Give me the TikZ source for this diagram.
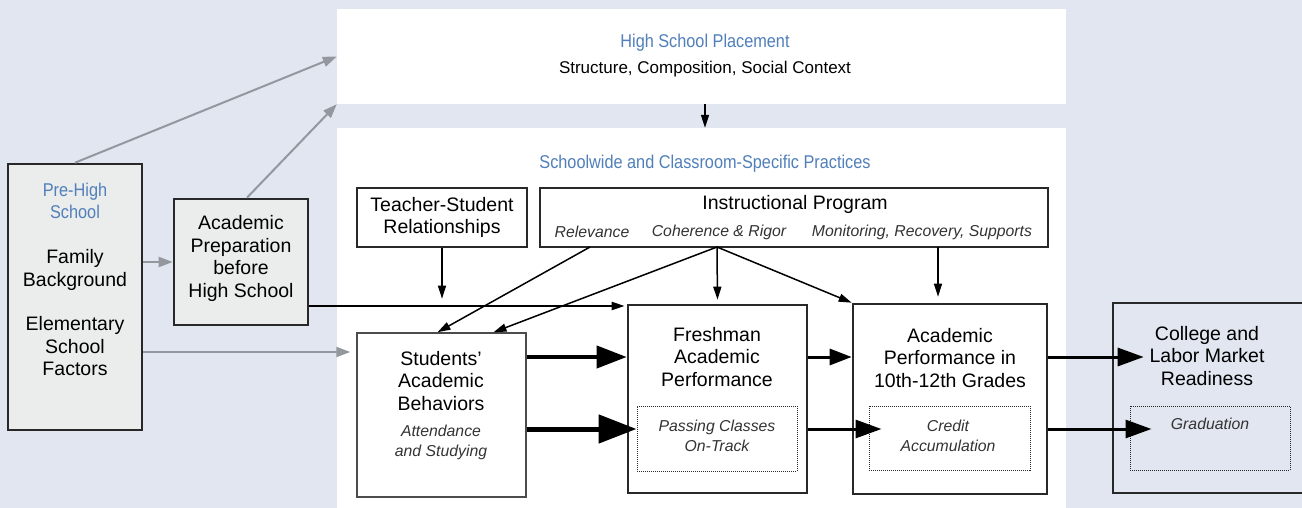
\documentclass[tikz,border=0pt]{standalone}
\usepackage{fontspec}
\setmainfont{Liberation Sans}
\newfontfamily\condfont[FakeStretch=0.88]{Liberation Sans}
\usetikzlibrary{arrows.meta}

\definecolor{bgblue}{RGB}{225,230,240}
\definecolor{boxgray}{RGB}{235,236,236}
\definecolor{headblue}{RGB}{80,127,186}
\definecolor{arrowgray}{RGB}{148,152,158}
\definecolor{edge}{RGB}{40,40,40}

\newcommand\txtbody{\fontsize{19.5}{22.5}\selectfont}
\newcommand\txtsub{\fontsize{15.8}{20}\selectfont\itshape}
\newcommand\txthead{\condfont\fontsize{18.5}{22}\selectfont}
\newcommand\txtstruct{\fontsize{17}{20}\selectfont}

\tikzset{
  panel/.style={fill=white, inner sep=0pt},
  greybox/.style={draw=edge, line width=2.6pt, fill=boxgray, inner sep=0pt},
  thinbox/.style={draw=edge, line width=1.3pt, fill=white, inner sep=0pt},
  thickbox/.style={draw=edge, line width=2.6pt, inner sep=0pt},
  dotbox/.style={draw=edge, densely dotted, line width=1pt, inner sep=0pt},
  plain/.style={inner sep=0pt, align=center, font=\txtbody},
  subtxt/.style={inner sep=0pt, align=center, font=\txtsub, text=black!80},
  head/.style={inner sep=0pt, align=center, font=\txthead, text=headblue},
  greyarrow/.style={draw=arrowgray, line width=2pt, -{Triangle[length=14pt,width=10pt]}},
  thinarrow/.style={draw=black, line width=1.5pt, -{Triangle[length=13pt,width=8pt]}},
  midarrow/.style={draw=black, line width=3pt, -{Triangle[length=26pt,width=18pt]}},
  bigarrow/.style={draw=black, line width=4pt, -{Triangle[length=30pt,width=22pt]}},
  hugearrow/.style={draw=black, line width=5pt, -{Triangle[length=38pt,width=28pt]}}
}

\begin{document}
\begin{tikzpicture}[x=1pt,y=-1pt]
  \path[use as bounding box, fill=bgblue] (0,0) rectangle (1302,508);

  % white panels
  \node[panel, minimum width=729pt, minimum height=95pt] (place) at (701.5,56.5) {};
  \node[panel, minimum width=729pt, minimum height=384pt] (practice) at (701.5,320) {};
  \node[head] (placehead) at (705,43) {High School Placement};
  \node[plain, font=\txtstruct] (placesub) at (705,69) {Structure, Composition, Social Context};
  \node[head] (practhead) at (705,164) {Schoolwide and Classroom-Specific Practices};

  % pre-high school
  \node[greybox, minimum width=134pt, minimum height=266pt] (pre) at (75,297) {};
  \node[head] (prehead) at (75,201) {Pre-High\\School};
  \node[plain] (pretext) at (75,313) {Family\\Background\\[22pt]Elementary\\School\\Factors};
  \node[greybox, minimum width=134pt, minimum height=126pt] (prep) at (241,262) {};
  \node[plain] (preptext) at (241,258.5) {Academic\\Preparation\\before\\High School};

  % practices
  \node[thinbox, plain, minimum width=170pt, minimum height=59pt] (teach) at (442,217.5) {Teacher-Student\\Relationships};
  \node[thinbox, minimum width=508pt, minimum height=59pt] (instr) at (794,217.5) {};
  \node[plain] (instrtext) at (795,204) {Instructional Program};
  \node[subtxt] (relvtext) at (592,232) {Relevance};
  \node[subtxt] (cohertext) at (719,232) {Coherence \& Rigor};
  \node[subtxt] (monittext) at (922,232) {Monitoring, Recovery, Supports};

  % outcomes
  \node[thinbox, draw=black!70, line width=1.5pt, minimum width=169pt, minimum height=164pt] (beh) at (441.5,415) {};
  \node[plain] (behtext) at (441,381) {Students'\\Academic\\Behaviors};
  \node[subtxt] (behsub) at (441,442) {Attendance\\and Studying};

  \node[thickbox, fill=white, minimum width=179pt, minimum height=188pt] (fresh) at (717.5,399) {};
  \node[plain] (freshtext) at (717,357) {Freshman\\Academic\\Performance};
  \node[dotbox, minimum width=160pt, minimum height=65pt] (freshdot) at (717,438.5) {};
  \node[subtxt] (passtext) at (717,436) {Passing Classes\\On-Track};

  \node[thickbox, fill=white, minimum width=194pt, minimum height=190pt] (acad) at (950,399) {};
  \node[plain] (acadtext) at (950,358) {Academic\\Performance in\\10th-12th Grades};
  \node[dotbox, minimum width=161pt, minimum height=64pt] (acaddot) at (949.5,438) {};
  \node[subtxt] (credtext) at (948,436) {Credit\\Accumulation};

  \node[thickbox, fill=bgblue, minimum width=227pt, minimum height=190pt] (coll) at (1226.5,398) {};
  \node[plain] (colltext) at (1207,356) {College and\\Labor Market\\Readiness};
  \node[dotbox, minimum width=160pt, minimum height=64pt] (colldot) at (1210,438) {};
  \node[subtxt] (gradtext) at (1210,424) {Graduation};

  % levels of the arrows
  \coordinate (rowT) at (0,306);
  \coordinate (rowA) at (0,357);
  \coordinate (rowB) at (0,429);
  \coordinate (elem) at (0,352);
  \coordinate (relv) at (590,247);
  \coordinate (coher) at (717,247);
  \coordinate (monit) at (938,247);

  % grey arrows
  \draw[greyarrow] (pre.north) -- (place.west);
  \draw[greyarrow] ([xshift=6pt]prep.north) -- (place.south west);
  \draw[greyarrow] (pre.east |- prep.west) -- (prep.west);
  \draw[greyarrow, shorten >=6pt] (pre.east |- elem) -- (beh.west |- elem);

  % black arrows
  \draw[thinarrow] (place.south -| placehead) -- (practice.north -| placehead);
  \draw[thinarrow, shorten >=5pt] (teach.south) -- (teach.south |- fresh.north);
  \draw[thinarrow] (relv) -- ([xshift=-4pt]beh.north);
  \draw[thinarrow] (coher) -- ([xshift=52pt]beh.north);
  \draw[thinarrow, shorten >=4pt] (coher) -- (fresh.north);
  \draw[thinarrow] (coher) -- (acad.north west);
  \draw[thinarrow, shorten >=6pt] (monit) -- (monit |- acad.north);
  \draw[thinarrow, line width=2pt, shorten >=2pt] (prep.east |- rowT) -- (fresh.west |- rowT);

  \draw[bigarrow] (beh.east |- rowA) -- (fresh.west |- rowA);
  \draw[hugearrow] (beh.east |- rowB) -- (freshdot.west |- rowB);
  \draw[midarrow, -{Triangle[length=22pt,width=16pt]}] (fresh.east |- rowA) -- (acad.west |- rowA);
  \draw[midarrow, shorten >=-13pt] (fresh.east |- rowB) -- (acaddot.west |- rowB);
  \draw[midarrow, shorten >=-32pt] (acad.east |- rowA) -- (coll.west |- rowA);
  \draw[midarrow, shorten >=-22pt] (acad.east |- rowB) -- (colldot.west |- rowB);
\end{tikzpicture}
\end{document}
